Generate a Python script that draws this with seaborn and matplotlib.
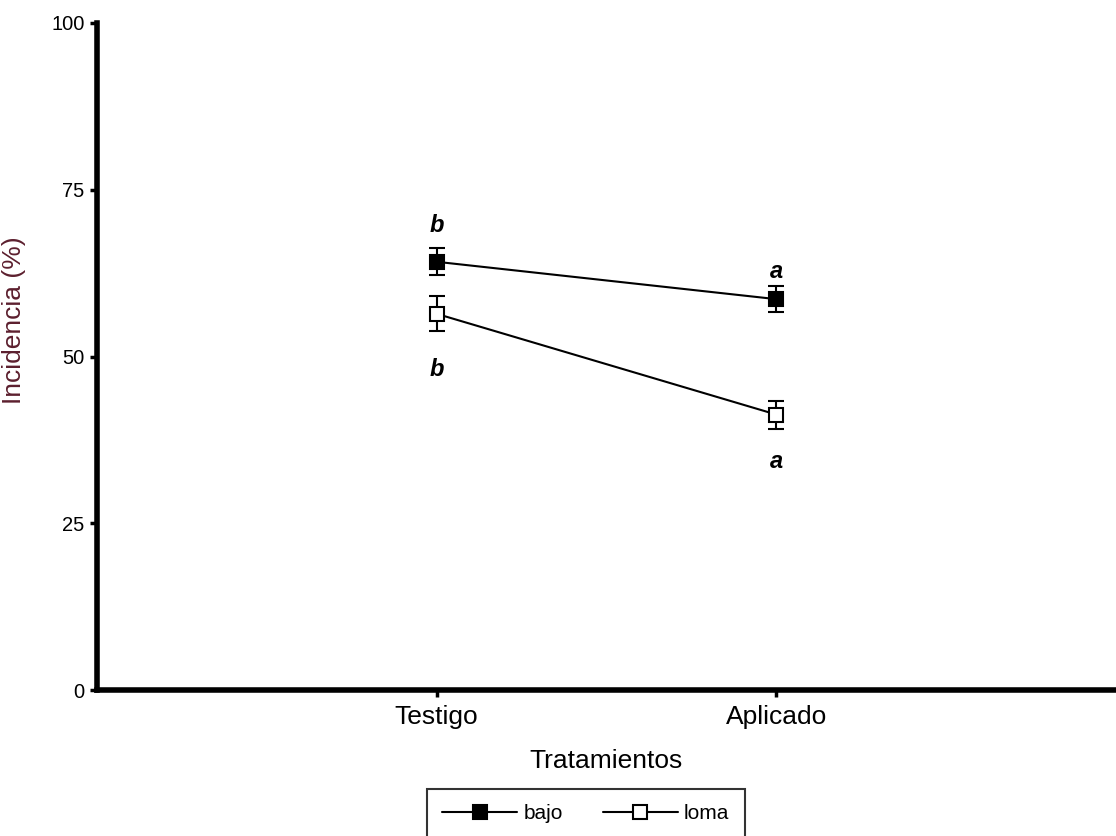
import matplotlib
matplotlib.use("Agg")
import matplotlib.pyplot as plt
from matplotlib.lines import Line2D
import seaborn as sns
import pandas as pd

# Treatments on the x axis and soil position series
tratamientos = ["Testigo", "Aplicado"]
series = ["bajo", "loma"]

# Mean incidence (%) and standard error per series
bajo_media = [64.2, 58.6]
bajo_ee = [2.0, 1.9]
loma_media = [56.4, 41.3]
loma_ee = [2.6, 2.1]

# Significance letters and their heights (%)
letras_bajo = ["b", "a"]
letras_bajo_y = [69.6, 62.7]
letras_loma = ["b", "a"]
letras_loma_y = [48.1, 34.3]

sns.set_style("ticks")
plt.rcParams["font.family"] = ["Liberation Sans", "DejaVu Sans"]
plt.rcParams["text.color"] = "black"
plt.rcParams["axes.labelcolor"] = "black"
plt.rcParams["xtick.color"] = "black"
plt.rcParams["ytick.color"] = "black"

df = pd.DataFrame({
    "pos": [1, 2, 1, 2],
    "trat": tratamientos * 2,
    "serie": ["bajo"] * 2 + ["loma"] * 2,
    "media": bajo_media + loma_media,
    "ee": bajo_ee + loma_ee,
})

fig = plt.figure(figsize=(11.16, 8.36), dpi=100)
ax = fig.add_axes([0.0869, 0.1746, 0.9131, 0.7979])

facecolors = {"bajo": "black", "loma": "white"}

for serie in series:
    sub = df[df["serie"] == serie]
    ax.errorbar(sub["pos"], sub["media"], yerr=sub["ee"], fmt="none",
                ecolor="black", elinewidth=1.5, capsize=6, capthick=1.5,
                zorder=2)
    sns.lineplot(data=sub, x="pos", y="media", ax=ax, color="black",
                 linewidth=1.5, marker="s", markersize=9.5,
                 markerfacecolor=facecolors[serie], markeredgecolor="black",
                 markeredgewidth=1.5, zorder=3, legend=False)

for p, l, y in zip([1, 2], letras_bajo, letras_bajo_y):
    ax.text(p, y, l, ha="center", va="center", fontsize=17,
            fontweight="bold", fontstyle="italic", color="black")
for p, l, y in zip([1, 2], letras_loma, letras_loma_y):
    ax.text(p, y, l, ha="center", va="center", fontsize=17,
            fontweight="bold", fontstyle="italic", color="black")

ax.set_xlim(0, 3)
ax.set_ylim(0, 100)
ax.set_xticks([1, 2])
ax.set_xticklabels(tratamientos)
ax.set_yticks([0, 25, 50, 75, 100])

for side in ["top", "right"]:
    ax.spines[side].set_visible(False)
for side in ["left", "bottom"]:
    ax.spines[side].set_linewidth(4)
    ax.spines[side].set_color("black")

ax.tick_params(axis="both", direction="out", length=5, width=2.5,
               color="black", labelcolor="black")
ax.tick_params(axis="y", labelsize=14.5, pad=4)
ax.tick_params(axis="x", labelsize=19, pad=6)

ax.set_xlabel("Tratamientos", fontsize=19, labelpad=14)
ax.set_ylabel("Incidencia (%)", fontsize=19, color="#5c1f2e")
ax.yaxis.set_label_coords(-0.07, 0.555)

handles = [
    Line2D([], [], color="black", linewidth=1.5, marker="s", markersize=10,
           markerfacecolor=facecolors[s], markeredgecolor="black",
           markeredgewidth=1.5, label=s)
    for s in series
]
leg = fig.legend(handles=handles, loc="upper center", ncol=2,
                 bbox_to_anchor=(0.525, 0.0565), frameon=True,
                 fancybox=False, edgecolor="black", fontsize=15,
                 handlelength=3.6, handletextpad=0.3, columnspacing=1.9,
                 borderpad=0.75, borderaxespad=0)
leg.get_frame().set_linewidth(1.5)

fig.savefig("out.png", dpi=100)
